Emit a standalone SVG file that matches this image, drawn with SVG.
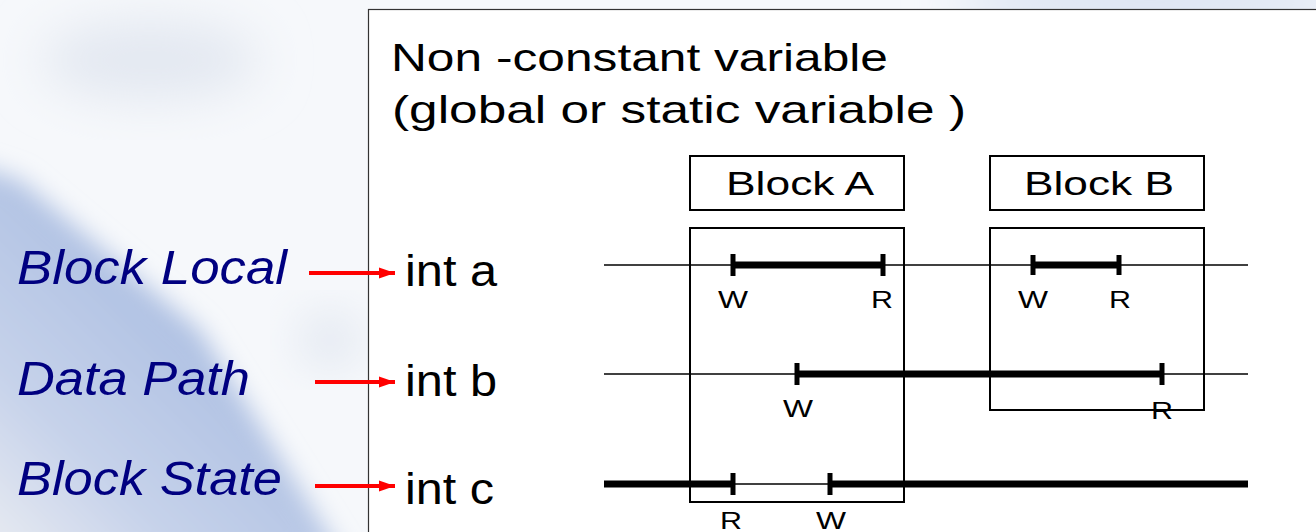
<svg xmlns="http://www.w3.org/2000/svg" width="1316" height="532" viewBox="0 0 1316 532">
  <defs>
    <style>
      .title { font-family: "Liberation Sans", Arial, sans-serif; font-size: 39px; fill: #000; }
      .blk { font-family: "Liberation Sans", Arial, sans-serif; font-size: 34px; fill: #000; text-anchor: middle; }
      .var { font-family: "Liberation Sans", Arial, sans-serif; font-size: 44px; fill: #000; }
      .cat { font-family: "Liberation Sans", Arial, sans-serif; font-size: 48px; font-style: italic; fill: #000080; }
      .wr { font-family: "Liberation Sans", Arial, sans-serif; font-size: 24px; fill: #000; text-anchor: middle; }
      .box { fill: none; stroke: #000; stroke-width: 2; }
      .thin { stroke: #000; stroke-width: 1.7; fill: none; }
      .thick { stroke: #000; stroke-width: 7; fill: none; }
      .tick { stroke: #000; stroke-width: 5; fill: none; }
      .arrow { stroke: #ff0000; stroke-width: 4; fill: none; marker-end: url(#redhead); }
    </style>
    <marker id="redhead" markerUnits="userSpaceOnUse" markerWidth="18" markerHeight="14" refX="16" refY="7" orient="auto">
      <path d="M0,1.5 L16,7 L0,12.5 Z" fill="#ff0000"/>
    </marker>
    <linearGradient id="bandGrad" gradientUnits="userSpaceOnUse" x1="200" y1="330" x2="0" y2="532">
      <stop offset="0" stop-color="#afc1e3"/>
      <stop offset="0.6" stop-color="#c6d2ea"/>
      <stop offset="1" stop-color="#e4e8f1"/>
    </linearGradient>
    <filter id="blur" x="-20%" y="-20%" width="140%" height="140%">
      <feGaussianBlur stdDeviation="12"/>
    </filter>
    <filter id="blur2" x="-50%" y="-50%" width="200%" height="200%">
      <feGaussianBlur stdDeviation="25"/>
    </filter>
  </defs>

  <!-- background -->
  <g id="background">
    <rect x="0" y="0" width="1316" height="532" fill="#f6f8fb"/>
    <polygon points="-40,160 20,180 200,330 345,560 -40,560" fill="url(#bandGrad)" filter="url(#blur)"/>
    <ellipse cx="150" cy="60" rx="110" ry="40" fill="#e3e8f1" filter="url(#blur2)"/>
    <ellipse cx="1150" cy="0" rx="200" ry="25" fill="#d5dff0" filter="url(#blur2)"/>
    <ellipse cx="330" cy="340" rx="30" ry="25" fill="#dde3ee" filter="url(#blur2)"/>
  </g>

  <!-- white panel -->
  <rect id="panel" x="368.5" y="9.5" width="1000" height="600" fill="#ffffff" stroke="#333333" stroke-width="1.2"/>

  <g id="title">
    <text class="title" x="391" y="71" textLength="497" lengthAdjust="spacingAndGlyphs">Non -constant variable</text>
    <text class="title" x="392" y="123" textLength="574" lengthAdjust="spacingAndGlyphs">(global or static variable )</text>
  </g>

  <g id="blockA-label">
    <rect class="box" x="690" y="156" width="214" height="54"/>
    <text class="blk" x="800" y="195" textLength="148" lengthAdjust="spacingAndGlyphs">Block A</text>
  </g>
  <g id="blockB-label">
    <rect class="box" x="990" y="156" width="214" height="54"/>
    <text class="blk" x="1099" y="195" textLength="150" lengthAdjust="spacingAndGlyphs">Block B</text>
  </g>
  <g id="blockA">
    <rect class="box" x="690" y="228" width="214" height="274"/>
  </g>
  <g id="blockB">
    <rect class="box" x="990" y="228" width="214" height="182"/>
  </g>

  <g id="label-block-local"><text class="cat" x="17" y="284" textLength="270" lengthAdjust="spacingAndGlyphs">Block Local</text></g>
  <g id="label-data-path"><text class="cat" x="17" y="395" textLength="233" lengthAdjust="spacingAndGlyphs">Data Path</text></g>
  <g id="label-block-state"><text class="cat" x="17" y="495" textLength="265" lengthAdjust="spacingAndGlyphs">Block State</text></g>

  <g id="var-a"><text class="var" x="405" y="286" textLength="92" lengthAdjust="spacingAndGlyphs">int a</text></g>
  <g id="var-b"><text class="var" x="405" y="396" textLength="92" lengthAdjust="spacingAndGlyphs">int b</text></g>
  <g id="var-c"><text class="var" x="405" y="504" textLength="89" lengthAdjust="spacingAndGlyphs">int c</text></g>

  <g id="connectors">
    <!-- red arrows -->
    <line class="arrow" x1="309" y1="273" x2="395" y2="273"/>
    <line class="arrow" x1="315" y1="382" x2="395" y2="382"/>
    <line class="arrow" x1="315" y1="486" x2="395" y2="486"/>

    <!-- int a timeline -->
    <line class="thin" x1="604" y1="265" x2="1248" y2="265"/>
    <line class="thick" x1="733" y1="265" x2="883" y2="265"/>
    <line class="tick" x1="733" y1="254" x2="733" y2="276"/>
    <line class="tick" x1="883" y1="254" x2="883" y2="276"/>
    <line class="thick" x1="1033" y1="265" x2="1119" y2="265"/>
    <line class="tick" x1="1033" y1="255" x2="1033" y2="275"/>
    <line class="tick" x1="1119" y1="255" x2="1119" y2="275"/>

    <!-- int b timeline -->
    <line class="thin" x1="604" y1="374" x2="1248" y2="374"/>
    <line class="thick" x1="797" y1="374" x2="1162" y2="374"/>
    <line class="tick" x1="797" y1="363" x2="797" y2="385"/>
    <line class="tick" x1="1162" y1="363" x2="1162" y2="385"/>

    <!-- int c timeline -->
    <line class="thick" x1="604" y1="484" x2="733" y2="484"/>
    <line class="thin" x1="733" y1="484" x2="830" y2="484"/>
    <line class="thick" x1="830" y1="484" x2="1248" y2="484"/>
    <line class="tick" x1="733" y1="473" x2="733" y2="495"/>
    <line class="tick" x1="830" y1="473" x2="830" y2="495"/>
  </g>

  <g id="wr-labels">
    <text class="wr" x="733" y="308" textLength="30" lengthAdjust="spacingAndGlyphs">W</text>
    <text class="wr" x="882" y="308" textLength="22" lengthAdjust="spacingAndGlyphs">R</text>
    <text class="wr" x="1033" y="308" textLength="30" lengthAdjust="spacingAndGlyphs">W</text>
    <text class="wr" x="1120" y="308" textLength="22" lengthAdjust="spacingAndGlyphs">R</text>
    <text class="wr" x="798" y="417" textLength="30" lengthAdjust="spacingAndGlyphs">W</text>
    <text class="wr" x="1162" y="419" textLength="22" lengthAdjust="spacingAndGlyphs">R</text>
    <text class="wr" x="731" y="529" textLength="22" lengthAdjust="spacingAndGlyphs">R</text>
    <text class="wr" x="831" y="529" textLength="30" lengthAdjust="spacingAndGlyphs">W</text>
  </g>
</svg>
